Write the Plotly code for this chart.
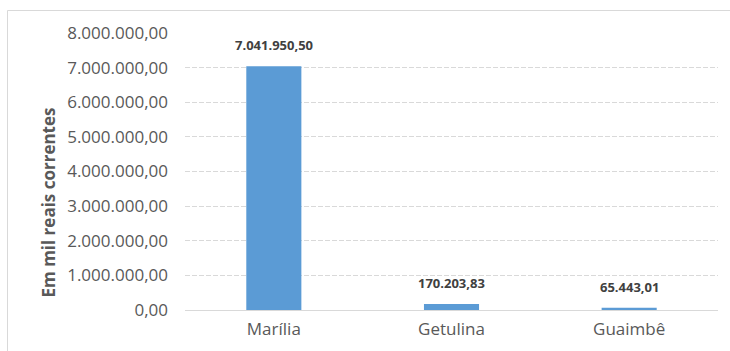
import plotly.graph_objects as go

municipios = ["Marília", "Getulina", "Guaimbê"]
valores = [7041950.50, 170203.83, 65443.01]
y_ticks = [0, 1000000, 2000000, 3000000, 4000000, 5000000, 6000000, 7000000, 8000000]


def br(v):
    s = f"{v:,.2f}"
    return s.replace(",", "X").replace(".", ",").replace("X", ".")


W, H = 730, 351
L, R, T, B = 185, 12, 33, 41
pw, ph = W - L - R, H - T - B
FONT = "Open Sans, Liberation Sans, sans-serif"


def px_x(p):
    return (p - L) / pw


def px_y(p):
    return (H - B - p) / ph


fig = go.Figure()
fig.add_trace(go.Bar(
    x=municipios, y=valores,
    marker=dict(color="#5B9BD5", line=dict(width=0)),
    width=0.31,
    hoverinfo="skip",
))

for m, v in zip(municipios, valores):
    fig.add_annotation(
        x=m, y=v, text=br(v), showarrow=False,
        yanchor="bottom", yshift=10,
        font=dict(family=FONT, size=13, color="#404040", weight="bold"),
    )

fig.add_annotation(
    xref="paper", yref="paper", x=px_x(34), y=px_y(203),
    text="Em mil reais correntes", textangle=-90, showarrow=False,
    font=dict(family=FONT, size=17, color="#595959", weight="bold"),
)

fig.add_shape(
    type="rect", xref="paper", yref="paper",
    x0=px_x(7.5), x1=px_x(745), y0=px_y(370), y1=px_y(10.5),
    line=dict(color="#d9d9d9", width=1), fillcolor="rgba(0,0,0,0)", layer="below",
)

fig.update_layout(
    width=W, height=H,
    margin=dict(l=L, r=R, t=T, b=B, pad=0),
    paper_bgcolor="white", plot_bgcolor="white",
    showlegend=False,
    font=dict(family=FONT, color="#595959"),
)
fig.update_yaxes(
    range=[0, 8000000],
    tickvals=y_ticks, ticktext=[br(t) for t in y_ticks],
    tickfont=dict(size=17, color="#595959"),
    showgrid=True, gridcolor="#d9d9d9", griddash="5px,2px", gridwidth=1,
    zeroline=False, showline=False,
    ticklabelstandoff=16,
)
fig.update_xaxes(
    tickfont=dict(size=17, color="#595959"),
    showline=True, linecolor="#d9d9d9", linewidth=1,
    ticks="", ticklabelstandoff=4,
)

fig.write_html("out.html")
